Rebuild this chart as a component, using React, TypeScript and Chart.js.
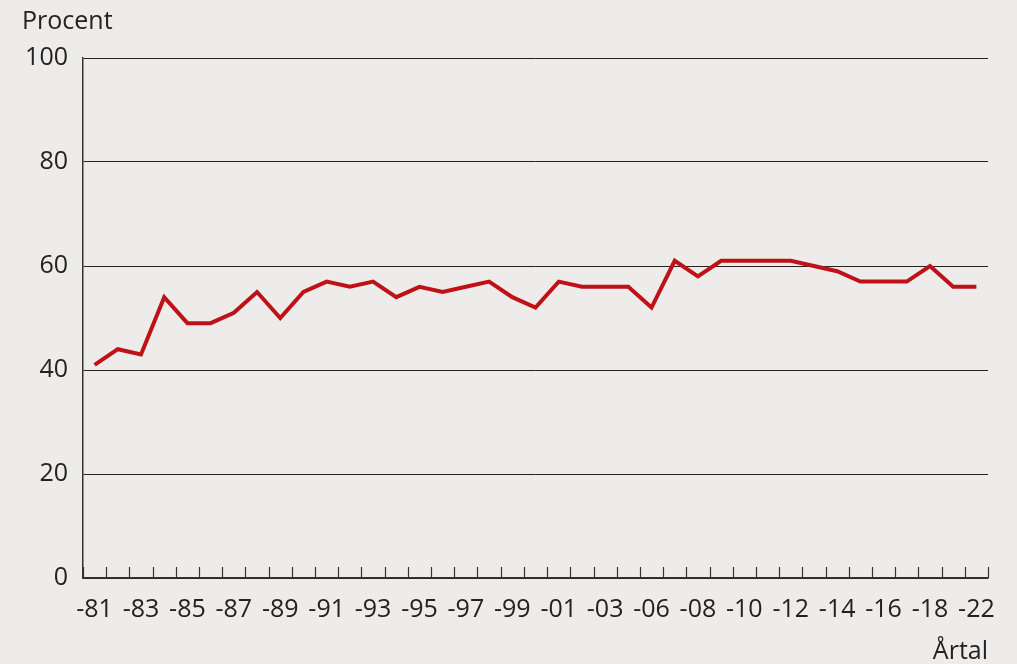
import React, { useEffect, useRef } from "react";
import { Chart, registerables } from "chart.js";

Chart.register(...registerables);

const years: string[] = [
  "-81", "-82", "-83", "-84", "-85", "-86", "-87", "-88", "-89", "-90",
  "-91", "-92", "-93", "-94", "-95", "-96", "-97", "-98", "-99", "-00",
  "-01", "-02", "-03", "-05", "-06", "-07", "-08", "-09", "-10", "-11",
  "-12", "-13", "-14", "-15", "-16", "-17", "-18", "-20", "-22",
];

const values: number[] = [
  41, 44, 43, 54, 49, 49, 51, 55, 50, 55,
  57, 56, 57, 54, 56, 55, 56, 57, 54, 52,
  57, 56, 56, 56, 52, 61, 58, 61, 61, 61,
  61, 60, 59, 57, 57, 57, 60, 56, 56,
];

const yTicks: number[] = [0, 20, 40, 60, 80, 100];

const FONT = "'Open Sans', 'Noto Sans', sans-serif";
const TEXT = "#222222";
const BG = "#edecea";

const extrasPlugin = {
  id: "extras",
  afterDraw(chart: any) {
    const ctx = chart.ctx;
    const xs = chart.scales.x;
    const n = years.length;
    const left = xs.left;
    const right = xs.right;
    const bottom = chart.chartArea.bottom;
    ctx.save();
    ctx.strokeStyle = "#333333";
    ctx.lineWidth = 1.2;
    for (let i = 0; i <= n; i++) {
      const x = Math.round(left + (i * (right - left)) / n) + 0.5;
      ctx.beginPath();
      ctx.moveTo(x, bottom);
      ctx.lineTo(x, bottom - 11);
      ctx.stroke();
    }
    ctx.fillStyle = TEXT;
    ctx.font = `25px ${FONT}`;
    ctx.textAlign = "left";
    ctx.textBaseline = "alphabetic";
    ctx.fillText("Procent", 22, 29);
    ctx.restore();
  },
};

export default function App() {
  const ref = useRef<HTMLCanvasElement | null>(null);
  useEffect(() => {
    document.body.style.margin = "0";
    if (!ref.current) return;
    const chart = new Chart(ref.current, {
      type: "line",
      data: {
        labels: years,
        datasets: [
          {
            data: values,
            borderColor: "#bf1218",
            borderWidth: 4,
            pointRadius: 0,
            tension: 0,
            fill: false,
          },
        ],
      },
      options: {
        animation: false,
        responsive: true,
        maintainAspectRatio: false,
        layout: { padding: { left: 0, right: 29, top: 58, bottom: 0 } },
        plugins: {
          legend: { display: false },
          tooltip: { enabled: false },
        },
        scales: {
          x: {
            type: "category",
            offset: true,
            grid: { display: false },
            border: { display: true, color: "#333333", width: 1.5 },
            ticks: {
              autoSkip: false,
              maxRotation: 0,
              minRotation: 0,
              padding: 9,
              color: TEXT,
              font: { family: FONT, size: 25 },
              callback: (_v: any, i: number) => (i % 2 === 0 ? years[i] : ""),
            },
            title: {
              display: true,
              text: "Årtal",
              align: "end",
              color: TEXT,
              font: { family: FONT, size: 25 },
              padding: { top: 0, bottom: -3 },
            },
            afterFit: (s: any) => {
              s.height = 86;
            },
          },
          y: {
            min: 0,
            max: 100,
            afterBuildTicks: (s: any) => {
              s.ticks = yTicks.map((v) => ({ value: v }));
            },
            grid: {
              display: true,
              drawTicks: false,
              color: "#222222",
              lineWidth: 1,
            },
            border: { display: true, color: "#333333", width: 1.5 },
            ticks: {
              padding: 15,
              color: TEXT,
              font: { family: FONT, size: 25 },
            },
            afterFit: (s: any) => {
              s.width = 83;
            },
          },
        },
      },
      plugins: [extrasPlugin],
    });
    return () => chart.destroy();
  }, []);
  return (
    <div
      style={{
        position: "fixed",
        left: 0,
        top: 0,
        width: 1017,
        height: 664,
        background: BG,
      }}
    >
      <canvas ref={ref} />
    </div>
  );
}
